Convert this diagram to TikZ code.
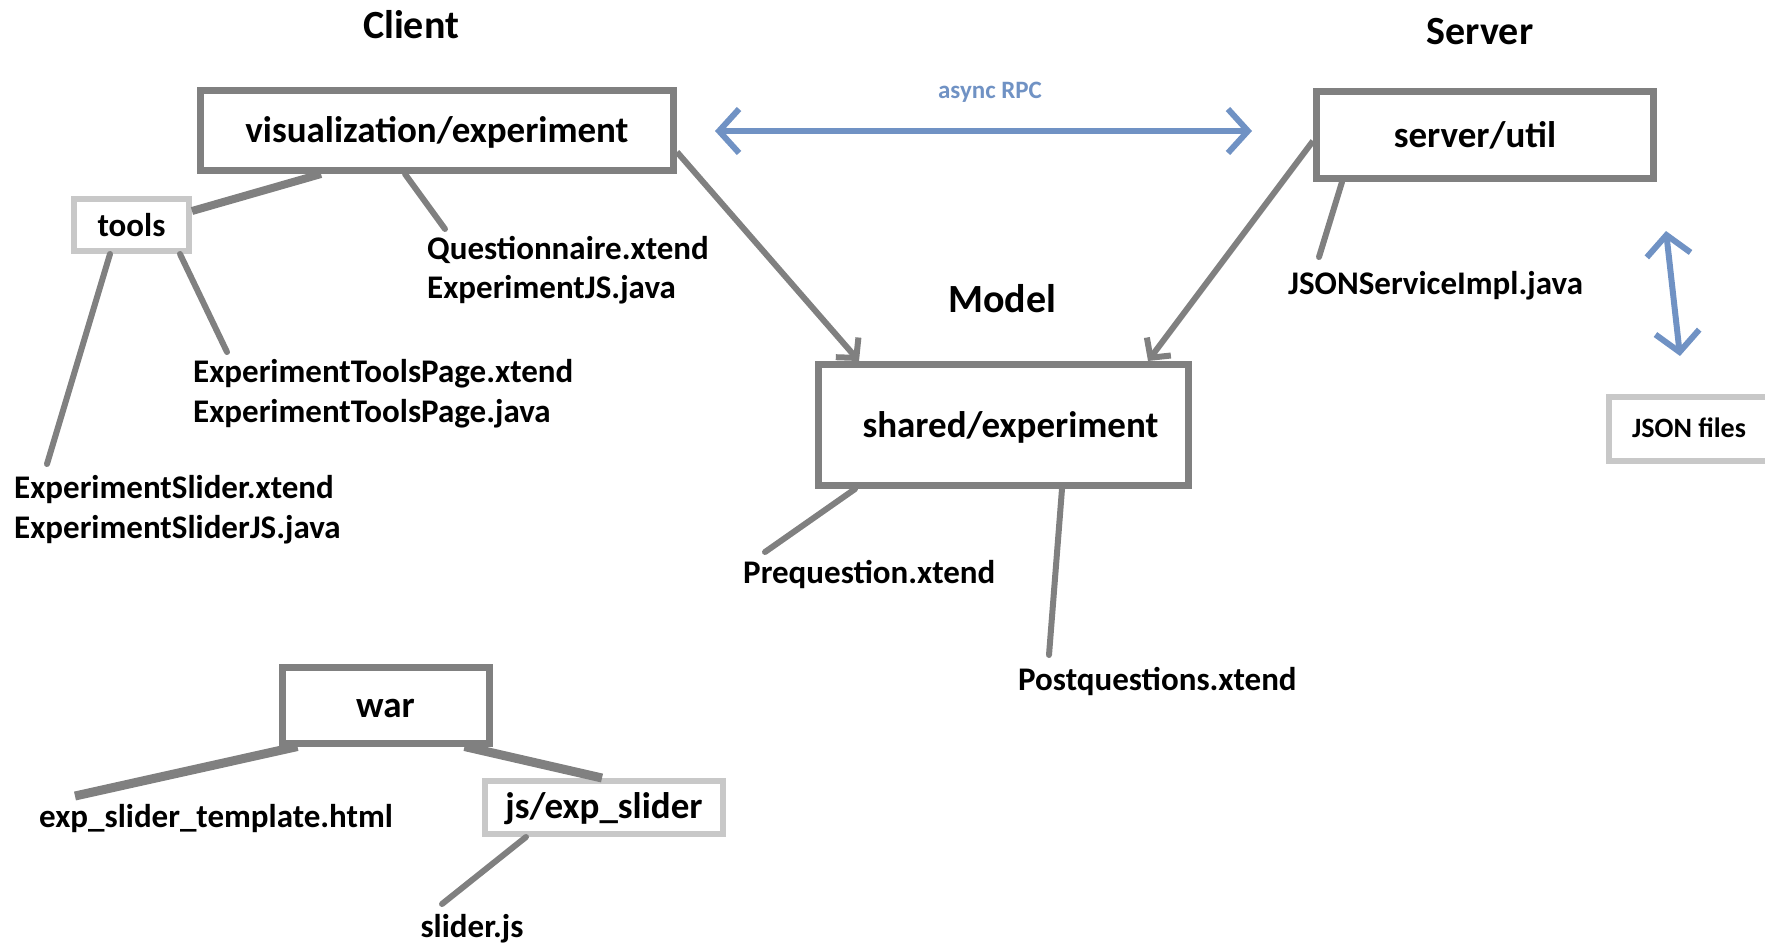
\documentclass[tikz,border=0pt]{standalone}
\usepackage{fontspec}
\setmainfont{Carlito}
\usetikzlibrary{arrows.meta,calc}
\definecolor{dgray}{RGB}{128,128,128}
\definecolor{lgray}{RGB}{200,200,200}
\definecolor{rpcblue}{RGB}{112,146,196}
\begin{document}
\begin{tikzpicture}[x=1pt,y=-1pt,
  box/.style={draw=dgray,line width=7pt,inner sep=0pt,text height=29pt,text depth=5pt,font=\fontsize{37}{44}\selectfont\bfseries},
  lbox/.style={draw=lgray,line width=6pt,inner sep=0pt,font=\fontsize{35}{42}\selectfont\bfseries},
  title/.style={inner sep=0pt,font=\fontsize{40}{48}\selectfont\bfseries},
  lbl/.style={inner sep=0pt,anchor=west,align=left,font=\fontsize{33}{39.5}\selectfont\bfseries},
  conn/.style={draw=dgray,line width=6pt,line cap=round},
  thickconn/.style={draw=dgray,line width=9pt},
  arr/.style={draw=dgray,line width=6pt,-{Straight Barb[length=14pt,width=30pt]}},
  barr/.style={draw=rpcblue,line width=6pt,line cap=round,{Straight Barb[length=20pt,width=44pt]}-{Straight Barb[length=20pt,width=44pt]}}]
\useasboundingbox (0,0) rectangle (1765,946);

% titles
\node[title] (client) at (411,25) {Client};
\node[title] (server-t) at (1480,32) {Server};
\node[title] (model) at (1002,299) {Model};
\node[inner sep=0pt,text=rpcblue,font=\fontsize{25}{30}\selectfont\bfseries] (rpc) at (990,92) {async RPC};

% boxes
\node[box,minimum width=473pt,minimum height=80pt] (vis) at (437,130.5) {visualization/experiment};
\node[lbox,minimum width=115pt,minimum height=52pt,font=\fontsize{33}{40}\selectfont\bfseries] (tools) at (131.5,225) {tools};
\node[box,minimum width=337pt,minimum height=87pt] (server) at (1485,135) {\hspace*{-20pt}server/util};
\node[box,minimum width=370pt,minimum height=121pt] (shared) at (1003.5,425) {\hspace*{14pt}shared/experiment};
\node[lbox,minimum width=160pt,minimum height=64pt,text height=20pt,text depth=4pt,font=\fontsize{28}{34}\selectfont\bfseries] (json) at (1689,429) {JSON files};
\node[box,minimum width=207pt,minimum height=76pt] (war) at (385.5,705) {war};
\node[lbox,minimum width=238pt,minimum height=53pt,text height=28pt,text depth=6pt,font=\fontsize{37}{44}\selectfont\bfseries] (js) at (604,807.5) {js/exp\_slider};

% file labels
\node[lbl] (quest) at (427,270) {Questionnaire.xtend\\ExperimentJS.java};
\node[lbl] (etp) at (193,393.5) {ExperimentToolsPage.xtend\\ExperimentToolsPage.java};
\node[lbl] (eslider) at (14,509.5) {ExperimentSlider.xtend\\ExperimentSliderJS.java};
\node[lbl] (jsonimpl) at (1288,285.5) {JSONServiceImpl.java};
\node[lbl] (preq) at (743,574.5) {Prequestion.xtend};
\node[lbl] (postq) at (1018,681.5) {Postquestions.xtend};
\node[lbl] (tmpl) at (39,819) {exp\_slider\_template.html};
\node[inner sep=0pt,font=\fontsize{33}{39.5}\selectfont\bfseries] (sliderjs) at (472,928.5) {slider.js};

% free ends of connectors
\coordinate (questEnd) at (445,229);
\coordinate (etpEnd) at (227,352);
\coordinate (esliderEnd) at (47,464);
\coordinate (jsonimplEnd) at (1319,257);
\coordinate (preqEnd) at (765,552);
\coordinate (postqEnd) at (1049,655);
\coordinate (tmplEnd) at (75,796);
\coordinate (sliderjsEnd) at (442,904);

% connectors
\draw[draw=dgray,line width=8pt] ([xshift=124pt]vis.south west) -- ([yshift=14pt]tools.east);
\draw[conn] ([xshift=208pt]vis.south west) -- (questEnd);
\draw[conn] ([xshift=39pt]tools.south west) -- (esliderEnd);
\draw[conn] ([xshift=109pt]tools.south west) -- (etpEnd);
\draw[arr] ([yshift=22pt]vis.south east) -- ([xshift=44pt]shared.north west);
\draw[arr] ([yshift=-53pt]server.north west) -- ([xshift=-44pt]shared.north east);
\draw[conn] ([xshift=29pt]server.south west) -- (jsonimplEnd);
\draw[barr] ([xshift=38pt,yshift=-0.5pt]vis.east) -- ([xshift=-61pt,yshift=4pt]server.west);
\draw[barr] ([xshift=9pt,yshift=-49pt]server.south east) -- ([xshift=74pt,yshift=38pt]json.north west);
\draw[conn] ([xshift=40pt]shared.south west) -- (preqEnd);
\draw[conn] ([xshift=247pt]shared.south west) -- (postqEnd);
\draw[thickconn] ([xshift=19pt]war.south west) -- (tmplEnd);
\draw[thickconn] ([xshift=-28pt]war.south east) -- ([xshift=120pt]js.north west);
\draw[conn] ([xshift=44pt]js.south west) -- (sliderjsEnd);
\end{tikzpicture}
\end{document}
